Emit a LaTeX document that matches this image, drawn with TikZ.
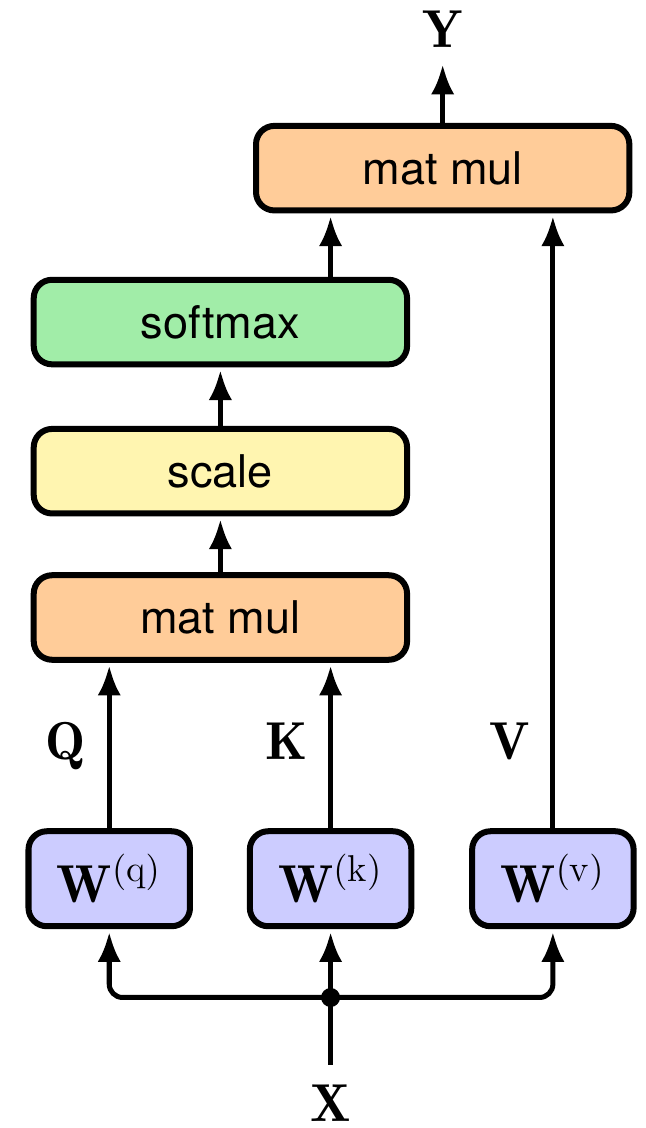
\documentclass[tikz,border=0pt]{standalone}
\usepackage{amsmath}
\usepackage{fontspec}
\setsansfont{TeX Gyre Heros}
\usepackage{xcolor}
\usetikzlibrary{arrows.meta}

\definecolor{mulorange}{RGB}{255,204,153}
\definecolor{smgreen}{RGB}{161,237,168}
\definecolor{scyellow}{RGB}{255,245,176}
\definecolor{wblue}{RGB}{204,204,255}

\newcommand{\mathsz}{\fontsize{16}{19}\selectfont}

\tikzset{
    block/.style={draw, line width=1.8pt, rounded corners=5.5pt, minimum width=3.93cm, minimum height=0.89cm, font=\sffamily\fontsize{13.5}{16}\selectfont},
    wbox/.style={draw, line width=1.8pt, rounded corners=5.5pt, fill=wblue, minimum width=1.70cm, minimum height=1.0cm, font=\mathsz},
    lbl/.style={font=\mathsz, inner sep=0pt},
    arr/.style={->, line width=1.5pt, shorten >=0.8pt},
}

\begin{document}
\begin{tikzpicture}[>={Latex[length=9pt,width=7pt]}]
    \useasboundingbox (0,0) rectangle (6.79,-11.874);

    % Attention stack
    \node[block, fill=mulorange] (mmtop) at (4.66,-1.77) {mat mul};
    \node[block, fill=smgreen] (softmax) at (2.32,-3.39) {softmax};
    \node[block, fill=scyellow] (scale) at (2.32,-4.96) {scale};
    \node[block, fill=mulorange] (mmlow) at (2.32,-6.50) {mat mul};

    % Projections
    \node[wbox] (wq) at (1.15,-9.25) {$\mathbf{W}^{(\mathrm{q})}$};
    \node[wbox] (wk) at (3.48,-9.25) {$\mathbf{W}^{(\mathrm{k})}$};
    \node[wbox] (wv) at (5.82,-9.25) {$\mathbf{W}^{(\mathrm{v})}$};

    % Input and output
    \node[lbl, anchor=base] (Y) at (4.66,-0.495) {$\mathbf{Y}$};
    \node[lbl, anchor=base] (X) at (3.48,-11.81) {$\mathbf{X}$};
    \coordinate (jn) at (wk |- 0,-10.50);

    % Q, K, V labels
    \node[lbl, anchor=base] (qlbl) at (0.69,-8.0) {$\mathbf{Q}$};
    \node[lbl, anchor=base] (klbl) at (3.02,-8.0) {$\mathbf{K}$};
    \node[lbl, anchor=base] (vlbl) at (5.37,-8.0) {$\mathbf{V}$};

    % Arrows
    \draw[arr, shorten >=5pt] (mmtop) -- (Y);
    \draw[arr] (softmax.north -| wk) -- (mmtop.south -| wk);
    \draw[arr] (scale) -- (softmax);
    \draw[arr] (mmlow) -- (scale);
    \draw[arr] (wq) -- (mmlow.south -| wq);
    \draw[arr] (wk) -- (mmlow.south -| wk);
    \draw[arr] (wv) -- (mmtop.south -| wv);

    % Input fan-out
    \draw[line width=1.5pt, shorten <=6pt] (X) -- (jn);
    \draw[arr, rounded corners=4pt] (jn) -| (wq);
    \draw[arr, rounded corners=4pt] (jn) -| (wv);
    \draw[arr] (jn) -- (wk);
    \fill (jn) circle (0.1);
\end{tikzpicture}
\end{document}
